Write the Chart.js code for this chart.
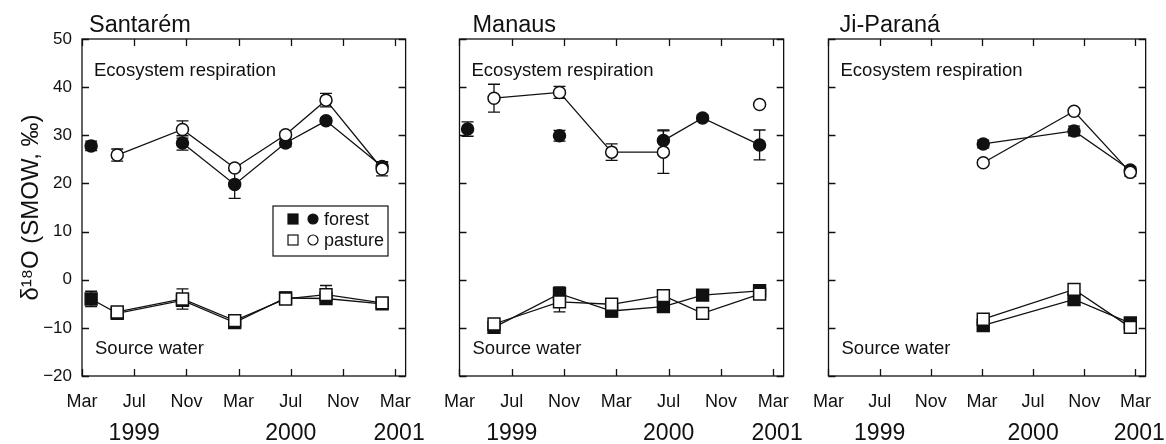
<!DOCTYPE html>
<html>
<head>
<meta charset="utf-8">
<script src="https://cdn.jsdelivr.net/npm/chart.js@4.4.0/dist/chart.umd.min.js"></script>
<style>
    html, body { margin: 0; padding: 0; background: #fff; overflow: hidden; }
    #wrap { position: relative; width: 1166px; height: 444px; }
    .panel { position: absolute; top: 0; height: 444px; }
</style>
</head>
<body>
<div id="wrap">
    <div class="panel" style="left:0;width:426px"><canvas id="c1"></canvas></div>
    <div class="panel" style="left:429px;width:375px"><canvas id="c2"></canvas></div>
    <div class="panel" style="left:798px;width:368px"><canvas id="c3"></canvas></div>
</div>
<script>
// x values are months counted from March 1999
const tickMonths = [0, 4, 8, 12, 16, 20, 24];
const tickLabels = ['Mar', 'Jul', 'Nov', 'Mar', 'Jul', 'Nov', 'Mar'];
const yearMonths = [4, 16, 24.3];
const yearLabels = ['1999', '2000', '2001'];

// Santarém
const santMonths = [0.7, 2.7, 7.7, 11.7, 15.6, 18.7, 23.0];
const santRespForest = [27.8, null, 28.4, 19.8, 28.4, 33.0, 23.5];
const santRespForestErr = [1.0, null, 1.5, 2.9, 0.8, 0.6, 1.0];
const santRespPasture = [null, 25.9, 31.2, 23.2, 30.1, 37.3, 23.0];
const santRespPastureErr = [null, 1.25, 1.8, 0.6, 0.6, 1.4, 1.45];
const santSrcForest = [-4.0, -7.0, -4.3, -8.9, -3.8, -3.9, -5.0];
const santSrcForestErr = [1.6, 0.6, 0.8, 0.8, 1.2, 0.6, 0.5];
const santSrcPasture = [null, -6.7, -4.0, -8.5, -4.0, -3.1, -4.8];
const santSrcPastureErr = [null, 0.5, 2.1, 0.6, 0.6, 1.9, 0.5];

// Manaus
const manMonths = [0.62, 2.64, 7.65, 11.64, 15.6, 18.6, 22.96];
const manRespForest = [31.3, null, 29.9, null, 28.9, 33.6, 28.0];
const manRespForestErr = [1.5, null, 1.1, null, 2.2, 0.6, 3.1];
const manRespPasture = [null, 37.7, 38.9, 26.5, 26.5, null, 36.4];
const manRespPastureErr = [null, 2.9, 1.25, 1.7, 4.4, null, 0];
const manSrcForest = [null, -9.9, -2.9, -6.5, -5.6, -3.2, -2.3];
const manSrcForestErr = [null, 0.6, 1.4, 1.2, 1.0, 1.0, 0.6];
const manSrcPasture = [null, -9.2, -4.6, -5.1, -3.3, -7.0, -3.0];
const manSrcPastureErr = [null, 0.6, 2.1, 0.6, 0.6, 0.6, 0.6];

// Ji-Paraná
const jiMonths = [12.1, 19.2, 23.6];
const jiRespForest = [28.2, 30.9, 22.8];
const jiRespForestErr = [0.8, 1.0, 0.6];
const jiRespPasture = [24.3, 35.0, 22.3];
const jiRespPastureErr = [0.6, 0.6, 0.8];
const jiSrcForest = [-9.5, -4.1, -9.0];
const jiSrcForestErr = [0.8, 1.2, 0.6];
const jiSrcPasture = [-8.2, -2.0, -9.9];
const jiSrcPastureErr = [0.8, 0.6, 0.6];

Chart.defaults.font.family = "'Liberation Sans', Arial, Helvetica, sans-serif";
Chart.defaults.color = '#111';

const ink = '#111';

function series(months, vals, errs, filled, shape) {
    return {
        data: months.map((m, i) => ({ x: m, y: vals[i] })),
        errors: errs,
        borderColor: ink,
        borderWidth: 1.3,
        pointStyle: shape,
        pointRadius: shape === 'rect' ? 8.4 : 6,
        pointBorderWidth: 1.5,
        pointBorderColor: ink,
        pointBackgroundColor: filled ? ink : '#fff',
        spanGaps: false,
        tension: 0
    };
}

// frame, inward ticks, error bars, labels
const decorPlugin = {
    id: 'decor',
    beforeDatasetsDraw(chart) {
        const { ctx, chartArea: a, scales: { x, y } } = chart;
        ctx.save();
        ctx.strokeStyle = ink;
        ctx.lineWidth = 1.3;
        ctx.strokeRect(a.left, a.top, a.right - a.left, a.bottom - a.top);
        const t = 7;
        ctx.beginPath();
        x.ticks.forEach(tk => {
            const px = Math.round(x.getPixelForValue(tk.value)) + 0.5;
            ctx.moveTo(px, a.top); ctx.lineTo(px, a.top + t);
            ctx.moveTo(px, a.bottom); ctx.lineTo(px, a.bottom - t);
        });
        y.ticks.forEach(tk => {
            const py = Math.round(y.getPixelForValue(tk.value)) + 0.5;
            ctx.moveTo(a.left, py); ctx.lineTo(a.left + t, py);
            ctx.moveTo(a.right, py); ctx.lineTo(a.right - t, py);
        });
        ctx.stroke();

        // error bars
        ctx.lineWidth = 1.3;
        chart.data.datasets.forEach(ds => {
            ds.data.forEach((p, j) => {
                const e = ds.errors[j];
                if (p.y == null || !e) return;
                const px = x.getPixelForValue(p.x);
                const y1 = y.getPixelForValue(p.y + e);
                const y2 = y.getPixelForValue(p.y - e);
                ctx.beginPath();
                ctx.moveTo(px, y1); ctx.lineTo(px, y2);
                ctx.moveTo(px - 6, y1); ctx.lineTo(px + 6, y1);
                ctx.moveTo(px - 6, y2); ctx.lineTo(px + 6, y2);
                ctx.stroke();
            });
        });
        ctx.restore();
    },
    afterDraw(chart) {
        const { ctx, chartArea: a, scales: { x } } = chart;
        const opts = chart.options.plugins.decor;
        ctx.save();
        ctx.fillStyle = ink;
        ctx.textBaseline = 'alphabetic';
        ctx.textAlign = 'left';
        ctx.font = "23.5px 'Liberation Sans', Arial, sans-serif";
        ctx.fillText(opts.title, a.left + opts.titleDx, 32);

        ctx.font = "18.5px 'Liberation Sans', Arial, sans-serif";
        ctx.fillText('Ecosystem respiration', a.left + 12, a.top + 37);
        ctx.fillText('Source water', a.left + 13, a.bottom - 22);

        // year labels
        ctx.font = "23px 'Liberation Sans', Arial, sans-serif";
        ctx.textAlign = 'center';
        ctx.textBaseline = 'middle';
        yearMonths.forEach((m, i) => {
            ctx.fillText(yearLabels[i], x.getPixelForValue(m), a.bottom + 58);
        });

        if (opts.legend) {
            const lx = a.left + 191, ly = a.top + 167;
            ctx.lineWidth = 1.2;
            ctx.strokeStyle = ink;
            ctx.strokeRect(lx, ly, 115, 50);
            const rows = [['forest', true, ly + 13], ['pasture', false, ly + 34]];
            ctx.font = "18px 'Liberation Sans', Arial, sans-serif";
            ctx.textAlign = 'left';
            rows.forEach(([label, filled, cy]) => {
                ctx.fillStyle = filled ? ink : '#fff';
                ctx.lineWidth = 1.2;
                ctx.fillRect(lx + 15, cy - 5, 10, 10);
                ctx.strokeRect(lx + 15, cy - 5, 10, 10);
                ctx.beginPath();
                ctx.arc(lx + 40, cy, 5, 0, Math.PI * 2);
                ctx.fill();
                ctx.stroke();
                ctx.fillStyle = ink;
                ctx.fillText(label, lx + 51, cy + 1);
            });
        }
        ctx.restore();
    }
};

function makePanel(id, cfg) {
    // lower index is drawn on top, so pasture (open) sits over forest
    const datasets = [
        series(cfg.months, cfg.srcPasture, cfg.srcPastureErr, false, 'rect'),
        series(cfg.months, cfg.respPasture, cfg.respPastureErr, false, 'circle'),
        series(cfg.months, cfg.srcForest, cfg.srcForestErr, true, 'rect'),
        series(cfg.months, cfg.respForest, cfg.respForestErr, true, 'circle')
    ];
    new Chart(document.getElementById(id), {
        type: 'line',
        data: { datasets },
        plugins: [decorPlugin],
        options: {
            responsive: true,
            maintainAspectRatio: false,
            animation: false,
            layout: { padding: cfg.padding },
            plugins: {
                legend: { display: false },
                tooltip: { enabled: false },
                decor: { title: cfg.title, titleDx: cfg.titleDx, legend: cfg.legend }
            },
            scales: {
                x: {
                    type: 'linear',
                    min: 0,
                    max: 24.8,
                    afterBuildTicks: s => { s.ticks = tickMonths.map(v => ({ value: v })); },
                    afterFit: s => { s.height = 68; },
                    grid: { display: false, drawTicks: false },
                    border: { display: false },
                    ticks: {
                        autoSkip: false,
                        maxRotation: 0,
                        padding: 15,
                        font: { size: 18 },
                        color: ink,
                        callback: (v) => tickLabels[tickMonths.indexOf(v)]
                    }
                },
                y: {
                    display: cfg.showY,
                    min: -20,
                    max: 50,
                    afterFit: s => { if (cfg.showY) s.width = 82; },
                    grid: { display: false, drawTicks: false },
                    border: { display: false },
                    ticks: {
                        stepSize: 10,
                        padding: 10,
                        font: { size: 17 },
                        color: ink,
                        callback: v => String(v).replace('-', '\u2212')
                    },
                    title: {
                        display: cfg.showY,
                        text: '\u03B4\u00B9\u2078O (SMOW, \u2030)',
                        font: { size: 24 },
                        color: ink,
                        padding: { top: 17, bottom: 0 }
                    }
                }
            }
        }
    });
}

makePanel('c1', {
    title: 'Santarém', titleDx: 7, legend: true, showY: true,
    padding: { top: 39, right: 10, left: 0, bottom: 0 },
    months: santMonths,
    respForest: santRespForest, respForestErr: santRespForestErr,
    respPasture: santRespPasture, respPastureErr: santRespPastureErr,
    srcForest: santSrcForest, srcForestErr: santSrcForestErr,
    srcPasture: santSrcPasture, srcPastureErr: santSrcPastureErr
});

makePanel('c2', {
    title: 'Manaus', titleDx: 13, legend: false, showY: false,
    padding: { top: 39, right: 20, left: 20, bottom: 0 },
    months: manMonths,
    respForest: manRespForest, respForestErr: manRespForestErr,
    respPasture: manRespPasture, respPastureErr: manRespPastureErr,
    srcForest: manSrcForest, srcForestErr: manSrcForestErr,
    srcPasture: manSrcPasture, srcPastureErr: manSrcPastureErr
});

makePanel('c3', {
    title: 'Ji-Paraná', titleDx: 11, legend: false, showY: false,
    padding: { top: 39, right: 13, left: 20, bottom: 0 },
    months: jiMonths,
    respForest: jiRespForest, respForestErr: jiRespForestErr,
    respPasture: jiRespPasture, respPastureErr: jiRespPastureErr,
    srcForest: jiSrcForest, srcForestErr: jiSrcForestErr,
    srcPasture: jiSrcPasture, srcPastureErr: jiSrcPastureErr
});
</script>
</body>
</html>
